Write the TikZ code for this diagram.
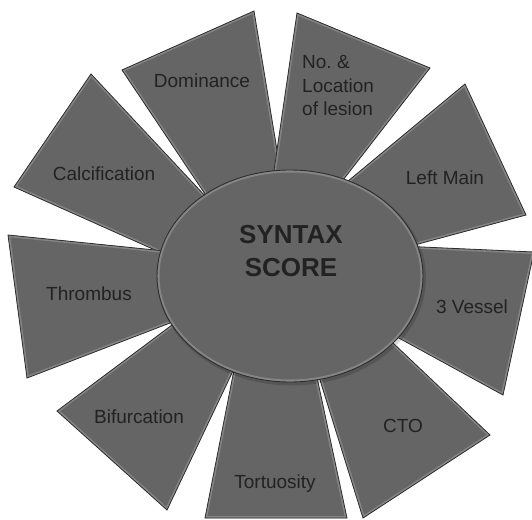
\documentclass[tikz,border=0pt]{standalone}
\usepackage{fontspec}
\setmainfont{Liberation Sans}
\usetikzlibrary{calc}
\definecolor{petalfill}{HTML}{656565}
\definecolor{bevellight}{HTML}{858585}
\definecolor{edgedark}{HTML}{2E2E2E}
\definecolor{txt}{HTML}{222222}
\tikzset{
  petaltext/.style={font=\fontsize{19}{23.5}\selectfont, text=txt, inner sep=0pt, align=center},
  titletext/.style={font=\fontsize{26}{33}\selectfont\bfseries, text=txt, inner sep=0pt, align=center},
}
\newcommand\mypetal[4]{%
  \begin{scope}
    \clip (#1) -- ($(#1)!1.25!(#2)$) -- (C) -- ($(#4)!1.25!(#3)$) -- (#4) -- cycle;
    \fill[petalfill] (#1) -- ($(#1)!1.25!(#2)$) -- (C) -- ($(#4)!1.25!(#3)$) -- (#4) -- cycle;
    \draw[bevellight, line width=4pt, line join=miter] (#1) -- ($(#1)!1.25!(#2)$) -- (C) -- ($(#4)!1.25!(#3)$) -- (#4) -- cycle;
  \end{scope}
  \draw[edgedark, line width=0.8pt, line join=miter] (#1) -- ($(#1)!1.25!(#2)$) -- (C) -- ($(#4)!1.25!(#3)$) -- (#4) -- cycle;
}
\begin{document}
\begin{tikzpicture}[x=1pt,y=-1pt]
\useasboundingbox[fill=white] (0,0) rectangle (532,519);
\coordinate (C) at (290,276);
% petal corners: outer1, inner1, inner2, outer2
\coordinate (ca1) at (14,187);  \coordinate (ca2) at (155,250); \coordinate (ca3) at (193,183); \coordinate (ca4) at (91,74);
\coordinate (do1) at (122,70);  \coordinate (do2) at (197,182); \coordinate (do3) at (277,150); \coordinate (do4) at (254,11);
\coordinate (no1) at (297,13);  \coordinate (no2) at (277,150); \coordinate (no3) at (357,162); \coordinate (no4) at (430,68);
\coordinate (lm1) at (465,84);  \coordinate (lm2) at (365,167); \coordinate (lm3) at (422,243); \coordinate (lm4) at (526,215);
\coordinate (ve1) at (534,252); \coordinate (ve2) at (422,247); \coordinate (ve3) at (397,337); \coordinate (ve4) at (503,395);
\coordinate (ct1) at (490,435); \coordinate (ct2) at (393,343); \coordinate (ct3) at (320,380); \coordinate (ct4) at (363,518);
\coordinate (to1) at (347,518); \coordinate (to2) at (318,382); \coordinate (to3) at (233,375); \coordinate (to4) at (205,518);
\coordinate (bi1) at (167,510); \coordinate (bi2) at (232,373); \coordinate (bi3) at (172,325); \coordinate (bi4) at (57,411);
\coordinate (th1) at (27,378);  \coordinate (th2) at (170,323); \coordinate (th3) at (155,250); \coordinate (th4) at (8,235);

\mypetal{ca1}{ca2}{ca3}{ca4}
\mypetal{do1}{do2}{do3}{do4}
\mypetal{no1}{no2}{no3}{no4}
\mypetal{lm1}{lm2}{lm3}{lm4}
\mypetal{ve1}{ve2}{ve3}{ve4}
\mypetal{ct1}{ct2}{ct3}{ct4}
\mypetal{to1}{to2}{to3}{to4}
\mypetal{bi1}{bi2}{bi3}{bi4}
\mypetal{th1}{th2}{th3}{th4}

% central disc
\fill[black, opacity=0.15] ($(C)+(1.5,2)$) ellipse [x radius=134.5, y radius=107.5];
\begin{scope}
  \clip (C) ellipse [x radius=133, y radius=106];
  \fill[petalfill] (C) ellipse [x radius=133, y radius=106];
  \draw[bevellight, line width=5pt] (C) ellipse [x radius=133, y radius=106];
\end{scope}
\draw[edgedark, line width=0.9pt] (C) ellipse [x radius=133, y radius=106];

% labels
\node[titletext] (syntax) at (291,251) {SYNTAX\\SCORE};
\node[petaltext] (calc) at (104,174) {Calcification};
\node[petaltext] (dom) at (202,81) {Dominance};
\node[petaltext, align=left, anchor=west] (noloc) at (302,86) {No.\ \&\\Location\\of lesion};
\node[petaltext] (lmain) at (445,178) {Left Main};
\node[petaltext] (vessel) at (472,307) {3 Vessel};
\node[petaltext] (cto) at (403,426) {CTO};
\node[petaltext] (tort) at (275,484) {Tortuosity};
\node[petaltext] (bif) at (139,417) {Bifurcation};
\node[petaltext] (thromb) at (89,294) {Thrombus};
\end{tikzpicture}
\end{document}
